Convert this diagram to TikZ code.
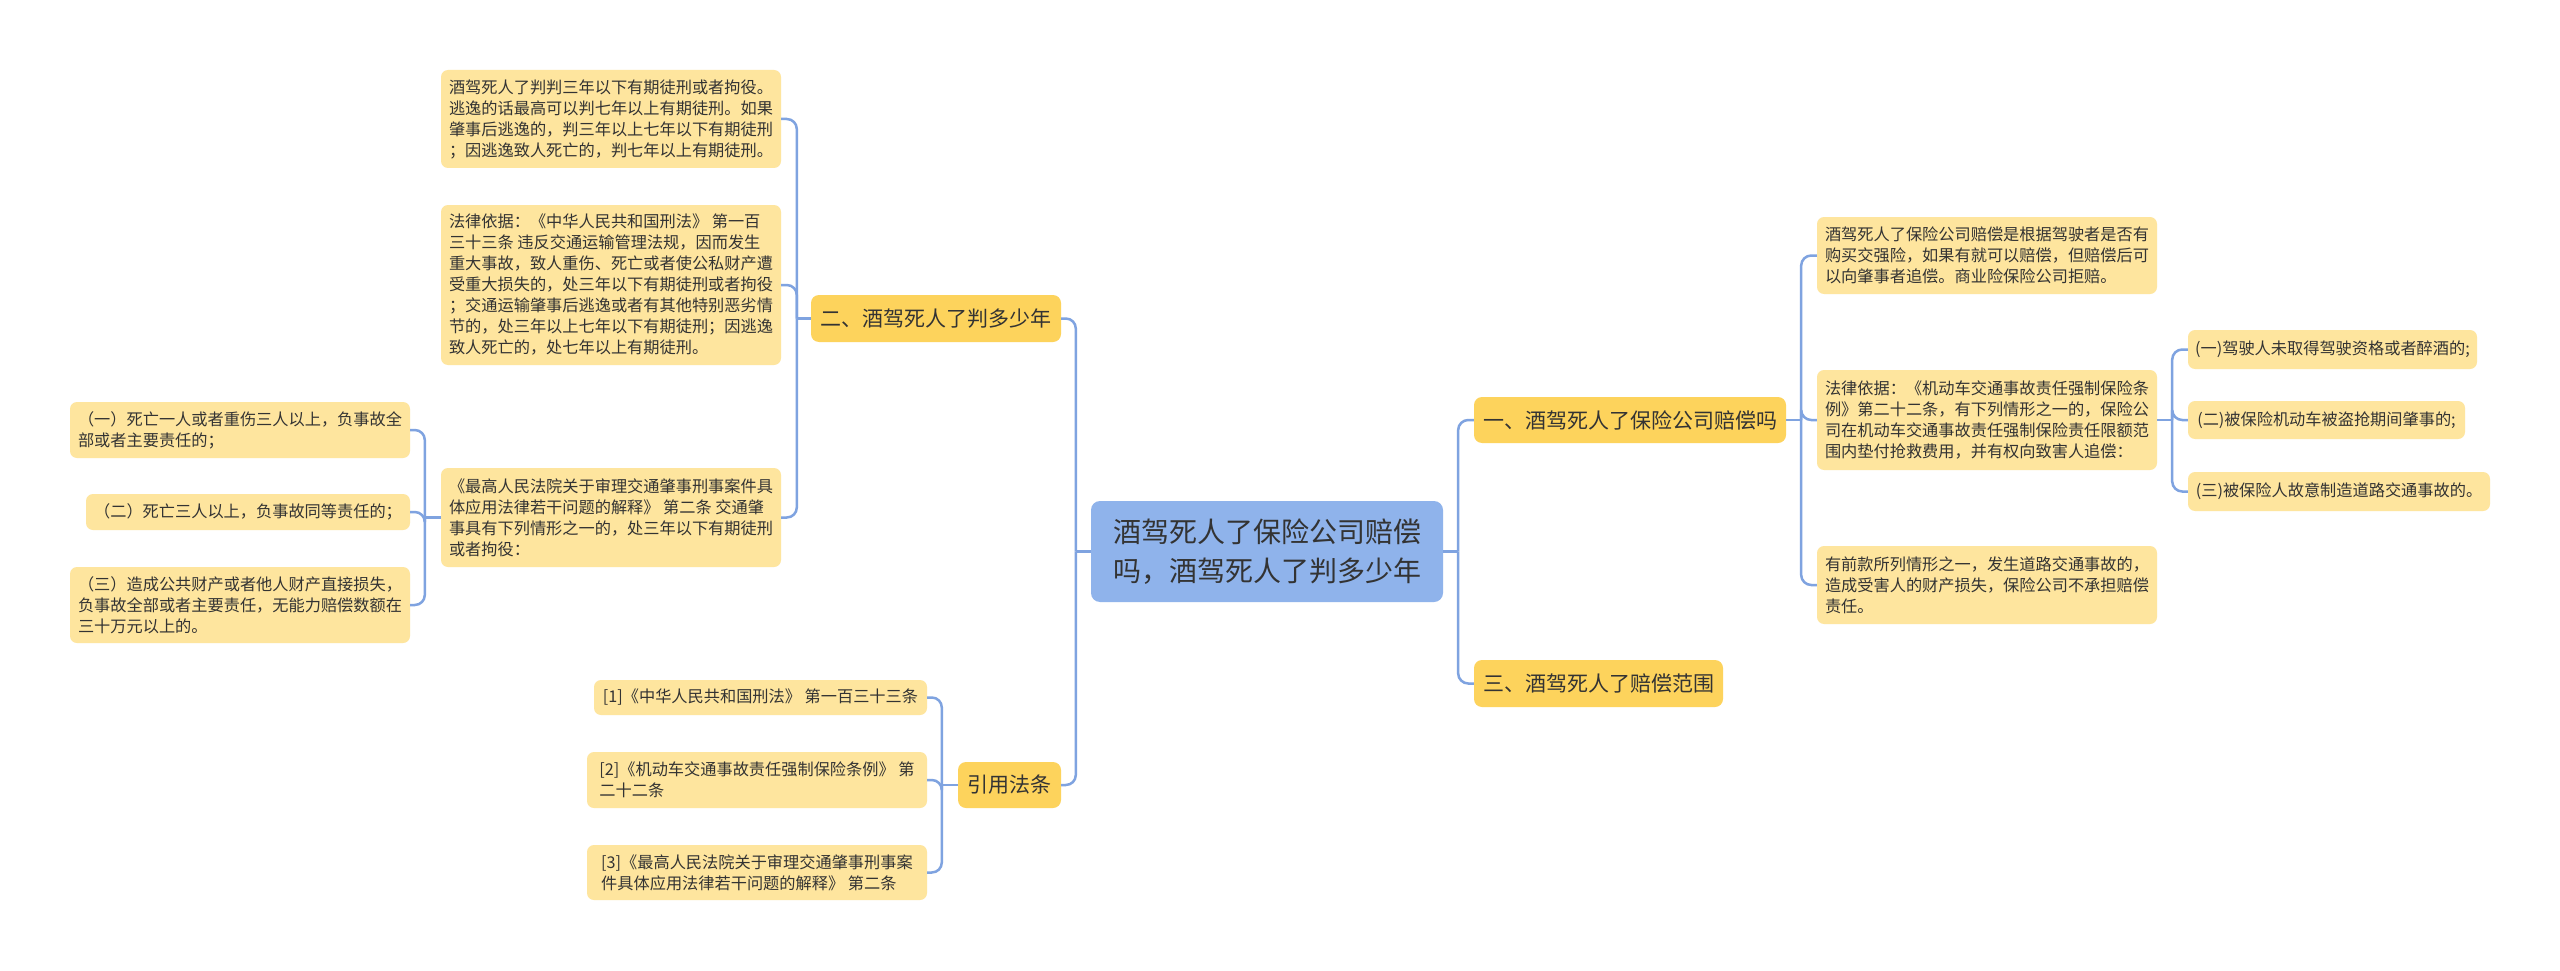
\documentclass[tikz,border=0pt]{standalone}
\usepackage{fontspec}
\setmainfont{Noto Sans CJK SC}
\definecolor{leafc}{HTML}{FEE59E}
\definecolor{branchc}{HTML}{FDD35C}
\definecolor{rootc}{HTML}{8FB3EB}
\definecolor{linec}{HTML}{7FA3E0}
\definecolor{txtc}{HTML}{333333}
\begin{document}
\begin{tikzpicture}[x=1pt,y=-1pt,
  leaf/.style={fill=leafc, rounded corners=7pt, inner sep=0pt, align=left, text=txtc, font=\fontsize{16.2}{21}\selectfont},
  branch/.style={fill=branchc, rounded corners=8pt, inner sep=0pt, align=left, text=txtc, font=\fontsize{21}{28}\selectfont},
  root/.style={fill=rootc, rounded corners=9pt, inner sep=0pt, align=left, text=txtc, font=\fontsize{28}{39}\selectfont},
  conn/.style={draw=linec, line width=2.5pt, rounded corners=10pt}]
\fill[white] (0,0) rectangle (2560,971);
\useasboundingbox (0,0) rectangle (2560,971);

% root
\node[root, minimum width=352, minimum height=101] (C) at (1267,551.5) {酒驾死人了保险公司赔偿\\吗，酒驾死人了判多少年};

% branches
\node[branch, minimum width=312, minimum height=46] (B1) at (1630,420) {一、酒驾死人了保险公司赔偿吗};
\node[branch, minimum width=249, minimum height=47] (B3) at (1598.5,683.5) {三、酒驾死人了赔偿范围};
\node[branch, minimum width=250, minimum height=47] (B2) at (936,318.5) {二、酒驾死人了判多少年};
\node[branch, minimum width=103, minimum height=46] (BR) at (1009.5,785) {引用法条};

% right leaves
\node[leaf, minimum width=340, minimum height=77] (LA) at (1987,255.5) {酒驾死人了保险公司赔偿是根据驾驶者是否有\\购买交强险，如果有就可以赔偿，但赔偿后可\\以向肇事者追偿。商业险保险公司拒赔。};
\node[leaf, minimum width=340, minimum height=100] (LB) at (1987,420) {法律依据：《机动车交通事故责任强制保险条\\例》第二十二条，有下列情形之一的，保险公\\司在机动车交通事故责任强制保险责任限额范\\围内垫付抢救费用，并有权向致害人追偿：};
\node[leaf, minimum width=340, minimum height=78] (LC) at (1987,585) {有前款所列情形之一，发生道路交通事故的，\\造成受害人的财产损失，保险公司不承担赔偿\\责任。};
\node[leaf, minimum width=289, minimum height=39] (RS1) at (2332.5,349.5) {(一)驾驶人未取得驾驶资格或者醉酒的;};
\node[leaf, minimum width=277, minimum height=38] (RS2) at (2326.5,420) {(二)被保险机动车被盗抢期间肇事的;};
\node[leaf, minimum width=302, minimum height=39] (RS3) at (2339,491.5) {(三)被保险人故意制造道路交通事故的。};

% left leaves
\node[leaf, minimum width=340, minimum height=98] (L1) at (611,119) {酒驾死人了判判三年以下有期徒刑或者拘役。\\逃逸的话最高可以判七年以上有期徒刑。如果\\肇事后逃逸的，判三年以上七年以下有期徒刑\\；因逃逸致人死亡的，判七年以上有期徒刑。};
\node[leaf, minimum width=340, minimum height=160] (L2) at (611,285) {法律依据：《中华人民共和国刑法》 第一百\\三十三条 违反交通运输管理法规，因而发生\\重大事故，致人重伤、死亡或者使公私财产遭\\受重大损失的，处三年以下有期徒刑或者拘役\\；交通运输肇事后逃逸或者有其他特别恶劣情\\节的，处三年以上七年以下有期徒刑；因逃逸\\致人死亡的，处七年以上有期徒刑。};
\node[leaf, minimum width=340, minimum height=99] (L3) at (611,517.5) {《最高人民法院关于审理交通肇事刑事案件具\\体应用法律若干问题的解释》 第二条 交通肇\\事具有下列情形之一的，处三年以下有期徒刑\\或者拘役：};
\node[leaf, minimum width=340, minimum height=56] (S1) at (240,430) {（一）死亡一人或者重伤三人以上，负事故全\\部或者主要责任的；};
\node[leaf, minimum width=324, minimum height=36] (S2) at (248,512) {（二）死亡三人以上，负事故同等责任的；};
\node[leaf, minimum width=340, minimum height=76] (S3) at (240,605) {（三）造成公共财产或者他人财产直接损失，\\负事故全部或者主要责任，无能力赔偿数额在\\三十万元以上的。};
\node[leaf, minimum width=333, minimum height=35] (R1) at (760.5,697.5) {[1]《中华人民共和国刑法》 第一百三十三条};
\node[leaf, minimum width=340, minimum height=56] (R2) at (757,780) {[2]《机动车交通事故责任强制保险条例》 第\\二十二条};
\node[leaf, minimum width=340, minimum height=55] (R3) at (757,872.5) {[3]《最高人民法院关于审理交通肇事刑事案\\件具体应用法律若干问题的解释》 第二条};

% junctions
\coordinate (jCR) at ([xshift=15pt]C.east);
\coordinate (jCL) at ([xshift=-15pt]C.west);
\coordinate (jB1) at ([xshift=15pt]B1.east);
\coordinate (jLB) at ([xshift=15pt]LB.east);
\coordinate (jB2) at ([xshift=-14pt]B2.west);
\coordinate (jL3) at ([xshift=-16pt]L3.west);
\coordinate (jBR) at ([xshift=-16pt]BR.west);

% connectors
\draw[conn] (C.east) -- (jCR);
\draw[conn] (jCR) |- (B1.west);
\draw[conn] (jCR) |- (B3.west);
\draw[conn] (C.west) -- (jCL);
\draw[conn] (jCL) |- (B2.east);
\draw[conn] (jCL) |- (BR.east);

\draw[conn] (B1.east) -- (jB1);
\draw[conn] (jB1) |- (LA.west);
\draw[conn] (jB1) |- (LB.west);
\draw[conn] (jB1) |- (LC.west);
\draw[conn] (LB.east) -- (jLB);
\draw[conn] (jLB) |- (RS1.west);
\draw[conn] (jLB) |- (RS2.west);
\draw[conn] (jLB) |- (RS3.west);

\draw[conn] (B2.west) -- (jB2);
\draw[conn] (jB2) |- (L1.east);
\draw[conn] (jB2) |- (L2.east);
\draw[conn] (jB2) |- (L3.east);
\draw[conn] (L3.west) -- (jL3);
\draw[conn] (jL3) |- (S1.east);
\draw[conn] (jL3) |- (S2.east);
\draw[conn] (jL3) |- (S3.east);

\draw[conn] (BR.west) -- (jBR);
\draw[conn] (jBR) |- (R1.east);
\draw[conn] (jBR) |- (R2.east);
\draw[conn] (jBR) |- (R3.east);
\end{tikzpicture}
\end{document}
